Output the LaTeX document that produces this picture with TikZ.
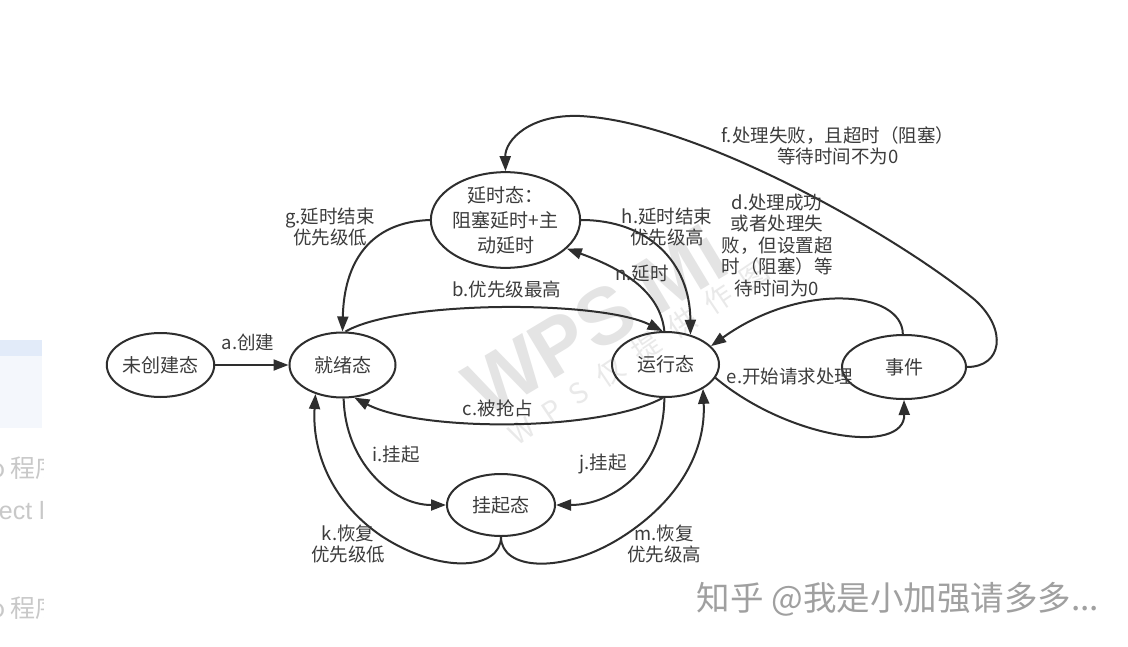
\documentclass[tikz,border=0pt]{standalone}
\usepackage{fontspec}
\setmainfont{Noto Sans CJK SC}
\newfontfamily\wmfont{Liberation Sans}
\newfontfamily\wmcjk[LetterSpace=55]{Noto Sans CJK SC}
\usetikzlibrary{shapes.geometric,arrows.meta}
\definecolor{ln}{HTML}{2E2E2E}
\definecolor{tx}{HTML}{3C3C3C}
\definecolor{wm}{HTML}{E4E4E4}
\definecolor{wmb}{HTML}{E9E9E9}
\definecolor{side}{HTML}{C8C8C8}
\begin{document}
\begin{tikzpicture}[x=1pt,y=-1pt,
  state/.style={draw=ln, line width=2pt, ellipse, inner sep=0pt, text=tx,
    font=\fontsize{19}{25}\selectfont, align=center},
  lbl/.style={text=tx, font=\fontsize{18.5}{21.5}\selectfont, align=center, inner sep=0pt},
  edge/.style={draw=ln, line width=2pt, -{Triangle[length=15pt,width=11pt]}}]
\useasboundingbox (0,0) rectangle (1128,646);
\fill[white] (0,0) rectangle (1128,646);

% left side screenshot remnants
\begin{scope}
\clip (0,0) rectangle (43,646);
\fill[color={rgb,255:red,244;green,247;blue,252}] (0,340) rectangle (42,428);
\fill[color={rgb,255:red,226;green,235;blue,249}] (0,340) rectangle (42,356);
\node[anchor=west, text=side, font=\fontsize{25}{25}\selectfont, inner sep=0pt] (s1) at (-10,468) {o 程序};
\node[anchor=east, text=side, font=\wmfont\fontsize{25}{25}\selectfont, inner sep=0pt] (s2) at (45,511) {ect l};
\node[anchor=west, text=side, font=\fontsize{25}{25}\selectfont, inner sep=0pt] (s3) at (-10,608) {o 程序};
\end{scope}

% watermark
\node[rotate=31, anchor=base west, text=wm, font=\wmfont\bfseries\fontsize{80}{80}\selectfont, inner sep=0pt] (wm1) at (486,420) {WPS\hspace{18pt}Mi};
\node[rotate=34, anchor=base west, text=wmb, font=\wmcjk\fontsize{28}{28}\selectfont, inner sep=0pt] (wm2) at (517,447) {WPS仅提供作图};

% states
\node[state, minimum width=105pt, minimum height=64pt] (new) at (160.5,365) {未创建态};
\node[state, minimum width=106pt, minimum height=65pt] (rdy) at (342.5,365) {就绪态};
\node[state, minimum width=145pt, minimum height=84pt] (dly) at (505.5,220) {延时态：\\阻塞延时+主\\动延时};
\node[state, minimum width=107pt, minimum height=65pt] (run) at (665.5,364.5) {运行态};
\node[state, minimum width=124pt, minimum height=64pt] (evt) at (904,367) {事件};
\node[state, minimum width=108pt, minimum height=62pt] (sus) at (501,505) {挂起态};

% connectors
\draw[edge] (new.east) -- (rdy.west);
\draw[edge] (rdy.85) .. controls (400,300) and (600,300) .. (run.95);
\draw[edge] (run.-95) .. controls (600,432) and (420,432) .. (rdy.-70);
\draw[edge] (dly.west) .. controls (370,222) and (344,262) .. (rdy.north);
\draw[edge] (dly.east) .. controls (648,220) and (690,262) .. (run.50);
\draw[edge] (run.92) .. controls (660,290) and (620,268) .. (dly.-25);
\draw[edge] (evt.92) .. controls (902,290) and (800,282) .. (run.22);
\draw[edge] (run.-15) .. controls (790,440) and (905,455) .. (evt.south);
\draw[edge] (evt.east) .. controls (1002,367) and (1008,330) .. (975,300)
   .. controls (900,238) and (700,122) .. (580,116)
   .. controls (530,114) and (505,140) .. (dly.north);
\draw[edge] (rdy.-88) .. controls (345,462) and (392,505) .. (sus.west);
\draw[edge] (run.-92) .. controls (664,470) and (612,505) .. (sus.east);
\draw[edge] (sus.south) .. controls (501,570) and (440,575) .. (380,535)
   .. controls (330,500) and (312,450) .. (rdy.-133);
\draw[edge] (sus.south) .. controls (501,570) and (562,575) .. (622,537)
   .. controls (680,500) and (706,450) .. (run.-33);

% labels
\node[lbl] (la) at (248,342) {a.创建};
\node[lbl] (lb) at (507,289) {b.优先级最高};
\node[lbl] (lc) at (498,408) {c.被抢占};
\node[lbl] (lg) at (330,227) {g.延时结束\\优先级低};
\node[lbl] (lh) at (667,227) {h.延时结束\\优先级高};
\node[lbl] (lnn) at (642,274) {n.延时};
\node[lbl] (ld) at (777,245) {d.处理成功\\或者处理失\\败，但设置超\\时（阻塞）等\\待时间为0};
\node[lbl] (lf) at (838,146) {f.处理失败，且超时（阻塞）\\等待时间不为0};
\node[lbl] (le) at (790,376) {e.开始请求处理};
\node[lbl] (li) at (396,455) {i.挂起};
\node[lbl] (lj) at (603,464) {j.挂起};
\node[lbl] (lk) at (348,544) {k.恢复\\优先级低};
\node[lbl] (lm) at (664,544) {m.恢复\\优先级高};

% bottom-right signature
\node[text={rgb,255:red,160;green,160;blue,160}, font=\fontsize{33.5}{33.5}\selectfont, inner sep=0pt] (sig) at (898,599) {知乎 @我是小加强请多多...};
\end{tikzpicture}
\end{document}
